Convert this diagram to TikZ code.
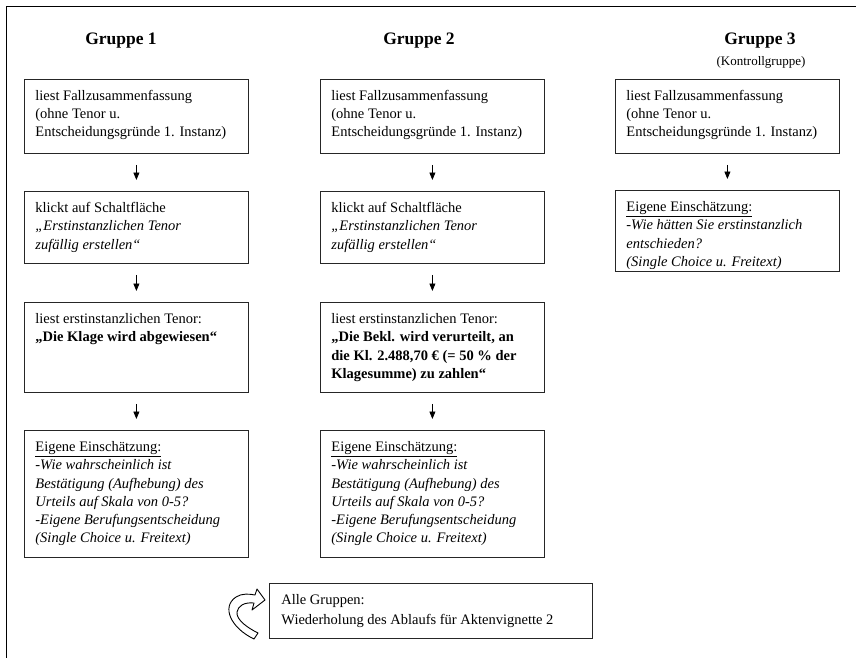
\documentclass[tikz,border=0pt]{standalone}
\usepackage{fontspec}
\setmainfont{Liberation Serif}
\usetikzlibrary{arrows.meta}

\newcommand{\stagefont}{\fontsize{14.5}{18.3}\selectfont}
\newcommand{\boxlines}[3][202pt]{\parbox[c][#2][t]{#1}{\raggedright\rule{0pt}{21pt}#3}}

\tikzset{
  stage/.style={draw=black!85, line width=0.8pt, inner xsep=11pt, inner ysep=0pt, anchor=north west, font=\stagefont},
  flow/.style={-{Triangle[length=7.5pt,width=6pt]}, line width=0.8pt, shorten <=11pt, shorten >=11pt},
  heading/.style={anchor=base, font=\bfseries\fontsize{17.5}{21}\selectfont},
}

\begin{document}
\begin{tikzpicture}[x=1pt, y=-1pt]
	\useasboundingbox (0,0) rectangle (856,658);
	\draw[line width=0.9pt] (856,6) -- (6,6) -- (6,658);
	% headings
	\node[heading] (g1head) at (121,45) {Gruppe 1};
	\node[heading] (g2head) at (419,45) {Gruppe 2};
	\node[heading] (g3head) at (760,45) {Gruppe 3};
	\node[anchor=base, font=\fontsize{13}{15}\selectfont] (g3sub) at (761,66) {(Kontrollgruppe)};
	% Gruppe 1
	\node[stage] (g1read) at (24,79) {\boxlines{74pt}{liest Fallzusammenfassung\\(ohne Tenor u.\\Entscheidungsgründe 1. Instanz)}};
	\node[stage] (g1click) at (24,191) {\boxlines{72pt}{klickt auf Schaltfläche\\\textit{„Erstinstanzlichen Tenor\\zufällig erstellen“}}};
	\node[stage] (g1tenor) at (24,302) {\boxlines{90pt}{liest erstinstanzlichen Tenor:\\\textbf{„Die Klage wird abgewiesen“}}};
	\node[stage] (g1rate) at (24,430) {\boxlines{127pt}{\underline{Eigene Einschätzung:}\\\textit{-Wie wahrscheinlich ist\\Bestätigung (Aufhebung) des\\Urteils auf Skala von 0-5?\\-Eigene Berufungsentscheidung\\(Single Choice u. Freitext)}}};
	% Gruppe 2
	\node[stage] (g2read) at (320,79) {\boxlines{74pt}{liest Fallzusammenfassung\\(ohne Tenor u.\\Entscheidungsgründe 1. Instanz)}};
	\node[stage] (g2click) at (320,191) {\boxlines{72pt}{klickt auf Schaltfläche\\\textit{„Erstinstanzlichen Tenor\\zufällig erstellen“}}};
	\node[stage] (g2tenor) at (320,302) {\boxlines{90pt}{liest erstinstanzlichen Tenor:\\\textbf{„Die Bekl. wird verurteilt, an\\die Kl. 2.488,70 € (= 50 \% der\\Klagesumme) zu zahlen“}}};
	\node[stage] (g2rate) at (320,430) {\boxlines{127pt}{\underline{Eigene Einschätzung:}\\\textit{-Wie wahrscheinlich ist\\Bestätigung (Aufhebung) des\\Urteils auf Skala von 0-5?\\-Eigene Berufungsentscheidung\\(Single Choice u. Freitext)}}};
	% Gruppe 3
	\node[stage] (g3read) at (615,79) {\boxlines{74pt}{liest Fallzusammenfassung\\(ohne Tenor u.\\Entscheidungsgründe 1. Instanz)}};
	\node[stage] (g3rate) at (615,190) {\boxlines{81pt}{\underline{Eigene Einschätzung:}\\\textit{-Wie hätten Sie erstinstanzlich\\entschieden?\\(Single Choice u. Freitext)}}};
	% alle Gruppen
	\node[stage, inner xsep=12pt, font=\fontsize{14.5}{20}\selectfont] (allgroups) at (269,583) {\boxlines[299pt]{55pt}{Alle Gruppen:\\Wiederholung des Ablaufs für Aktenvignette 2}};
	\draw[line width=0.9pt, fill=white, line join=round] (258,633) -- (254,639)
		.. controls (231,628) and (221,607) .. (236,597)
		.. controls (242,593) and (250,594) .. (255,595)
		-- (257,589) -- (265,600) -- (252,610) -- (254,603)
		.. controls (244,602) and (238,606) .. (237,612)
		.. controls (236,620) and (248,628) .. (258,633) -- cycle;
	\path[flow]
	(g1read) edge (g1click)
	(g1click) edge (g1tenor)
	(g1tenor) edge (g1rate)
	(g2read) edge (g2click)
	(g2click) edge (g2tenor)
	(g2tenor) edge (g2rate)
	(g3read) edge (g3rate)
	;
\end{tikzpicture}
\end{document}
